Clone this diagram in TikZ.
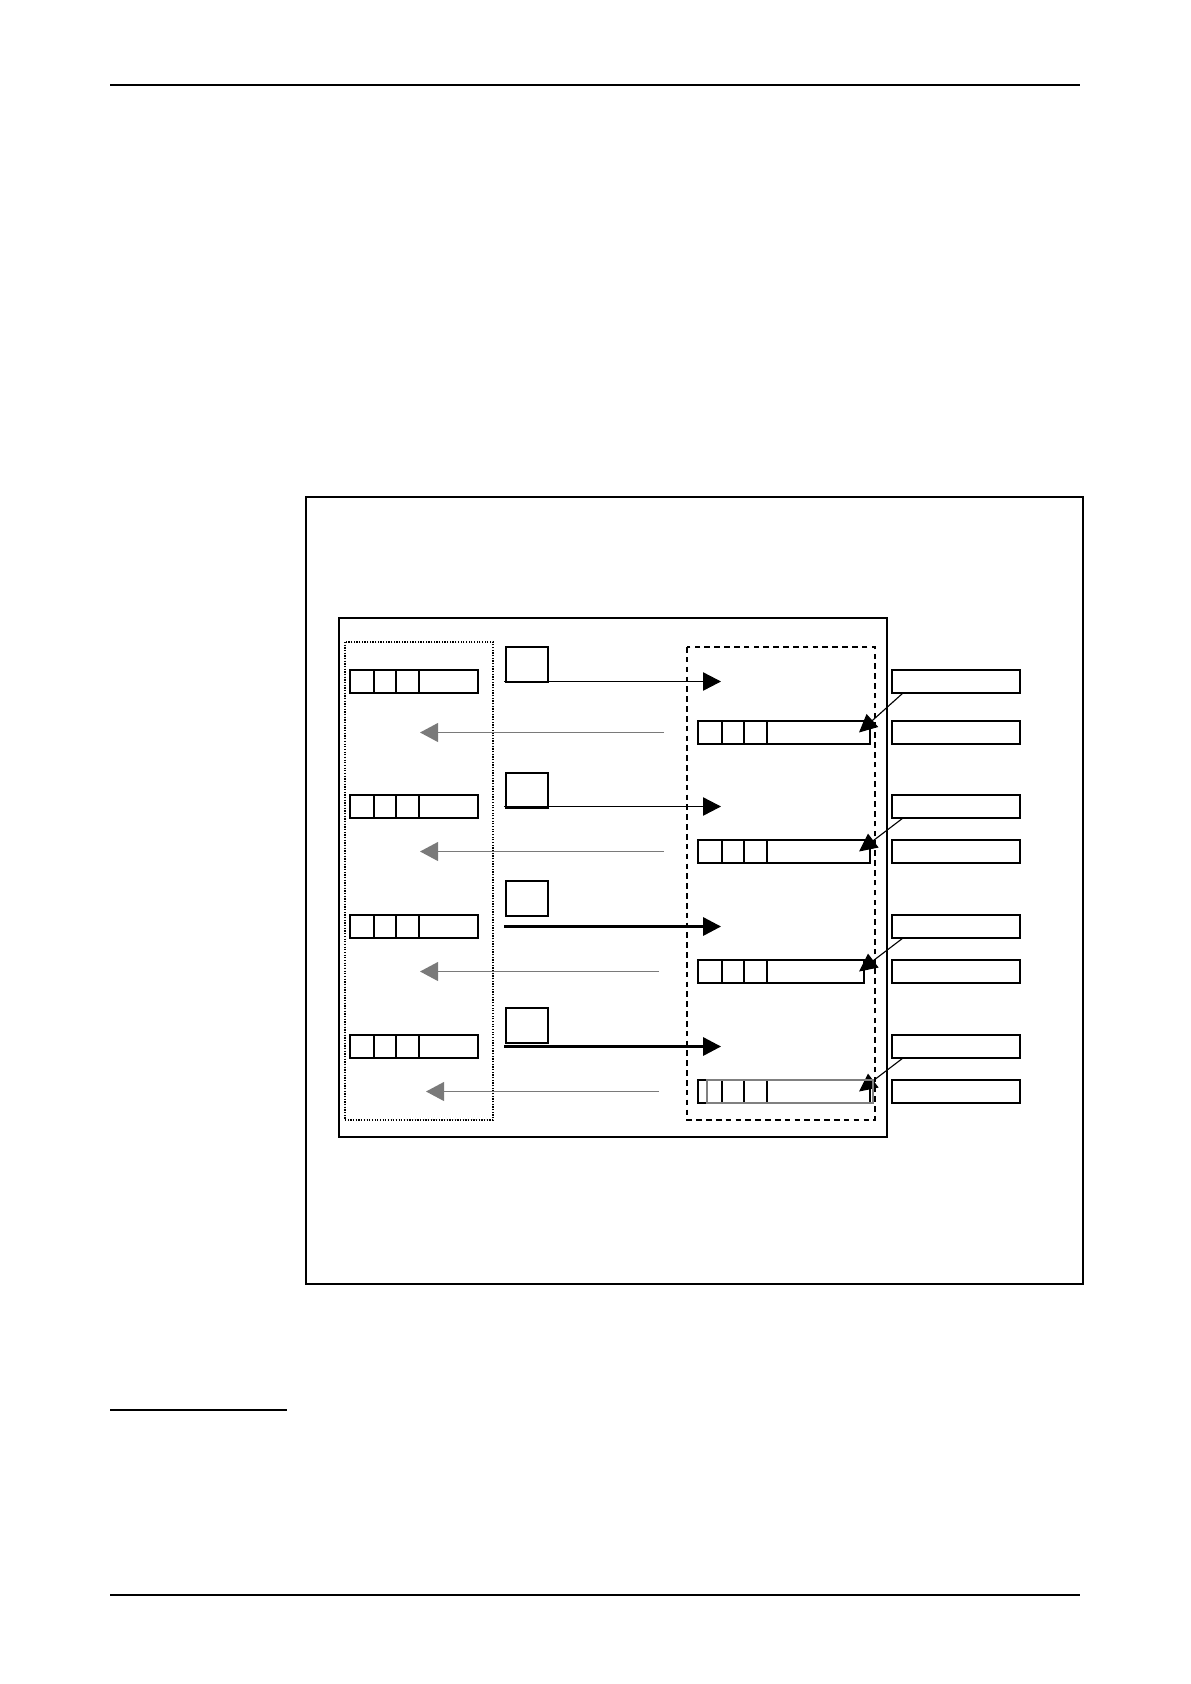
\documentclass[tikz,border=0pt]{standalone}
\usetikzlibrary{arrows.meta}

\tikzset{
  blk/.style={draw,line width=1.2pt,anchor=north west,inner sep=0pt,outer sep=0pt,minimum height=5.75mm},
  slot/.style={draw,line width=1.2pt,anchor=north west,inner sep=0pt,outer sep=0pt,minimum width=10.5mm,minimum height=8.75mm},
  fwd/.style={-{Triangle[length=4.5mm,width=4.6mm]}},
  back/.style={color=black!52,line width=1.1pt,-{Triangle[length=4.5mm,width=4.7mm]}},
  hook/.style={line width=0.8pt,-{Triangle[length=4.5mm,width=4.3mm]}}
}

\begin{document}
\begin{tikzpicture}[x=0.25mm,y=-0.25mm]
        \useasboundingbox (0,0) rectangle (1190,1684);
        % page rules
        \draw[line width=0.8pt] (110,85) -- (1080,85);
        \draw[line width=0.8pt] (110,1410) -- (287,1410);
        \draw[line width=1.6pt] (110,1595) -- (1080,1595);
        % frames
        \draw[line width=1.4pt] (306,497) rectangle (1083,1284);
        \draw[line width=0.8pt] (339,618) rectangle (887,1137);
        \draw[line width=1.6pt] (887,618) -- (887,1137);
        \draw[densely dotted,line width=0.9pt] (345,642) rectangle (493,1120);
        \draw[dash pattern=on 4pt off 3pt,line width=0.8pt] (687,647) rectangle (875,1120);
        % rows
        \foreach \i/\ya/\yb/\ys/\w/\gs/\gt/\lw in {1/670/721/647/43mm/664/420/0.7pt, 2/795/840/773/43mm/664/420/0.7pt, 3/915/960/881/41.5mm/659/420/1.5pt, 4/1035/1080/1008/43mm/659/426/1.5pt}{
            \node[blk,minimum width=32mm] (in\i) at (350,\ya) {};
            \node[slot] (tag\i) at (506,\ys) {};
            \node[blk,minimum width=\w] (out\i) at (698,\yb) {};
            \node[blk,minimum width=32mm] (reqa\i) at (892,\ya) {};
            \node[blk,minimum width=32mm] (reqb\i) at (892,\yb) {};
            \foreach \d in {24,46,69}{
                \draw[line width=1pt] (in\i.north west) ++(\d,0) -- ++(0,23);
                \draw[line width=1pt] (out\i.north west) ++(\d,0) -- ++(0,23);
            }
            \coordinate (src\i) at (504,\ya+11.5);
            \coordinate (hit\i) at (721,\ya+11.5);
            \coordinate (gfrom\i) at (\gs,\yb+11.5);
            \coordinate (gto\i) at (\gt,\yb+11.5);
            \coordinate (dtip\i) at (859,\yb+11.5);
            \draw[fwd,line width=\lw] (src\i) -- (hit\i);
            \draw[back] (gfrom\i) -- (gto\i);
            \draw[hook] ([xshift=2.75mm]reqa\i.south west) -- (dtip\i);
        }
        \draw[gray,line width=0.8pt] (707,1080) rectangle (873,1103);
\end{tikzpicture}
\end{document}
